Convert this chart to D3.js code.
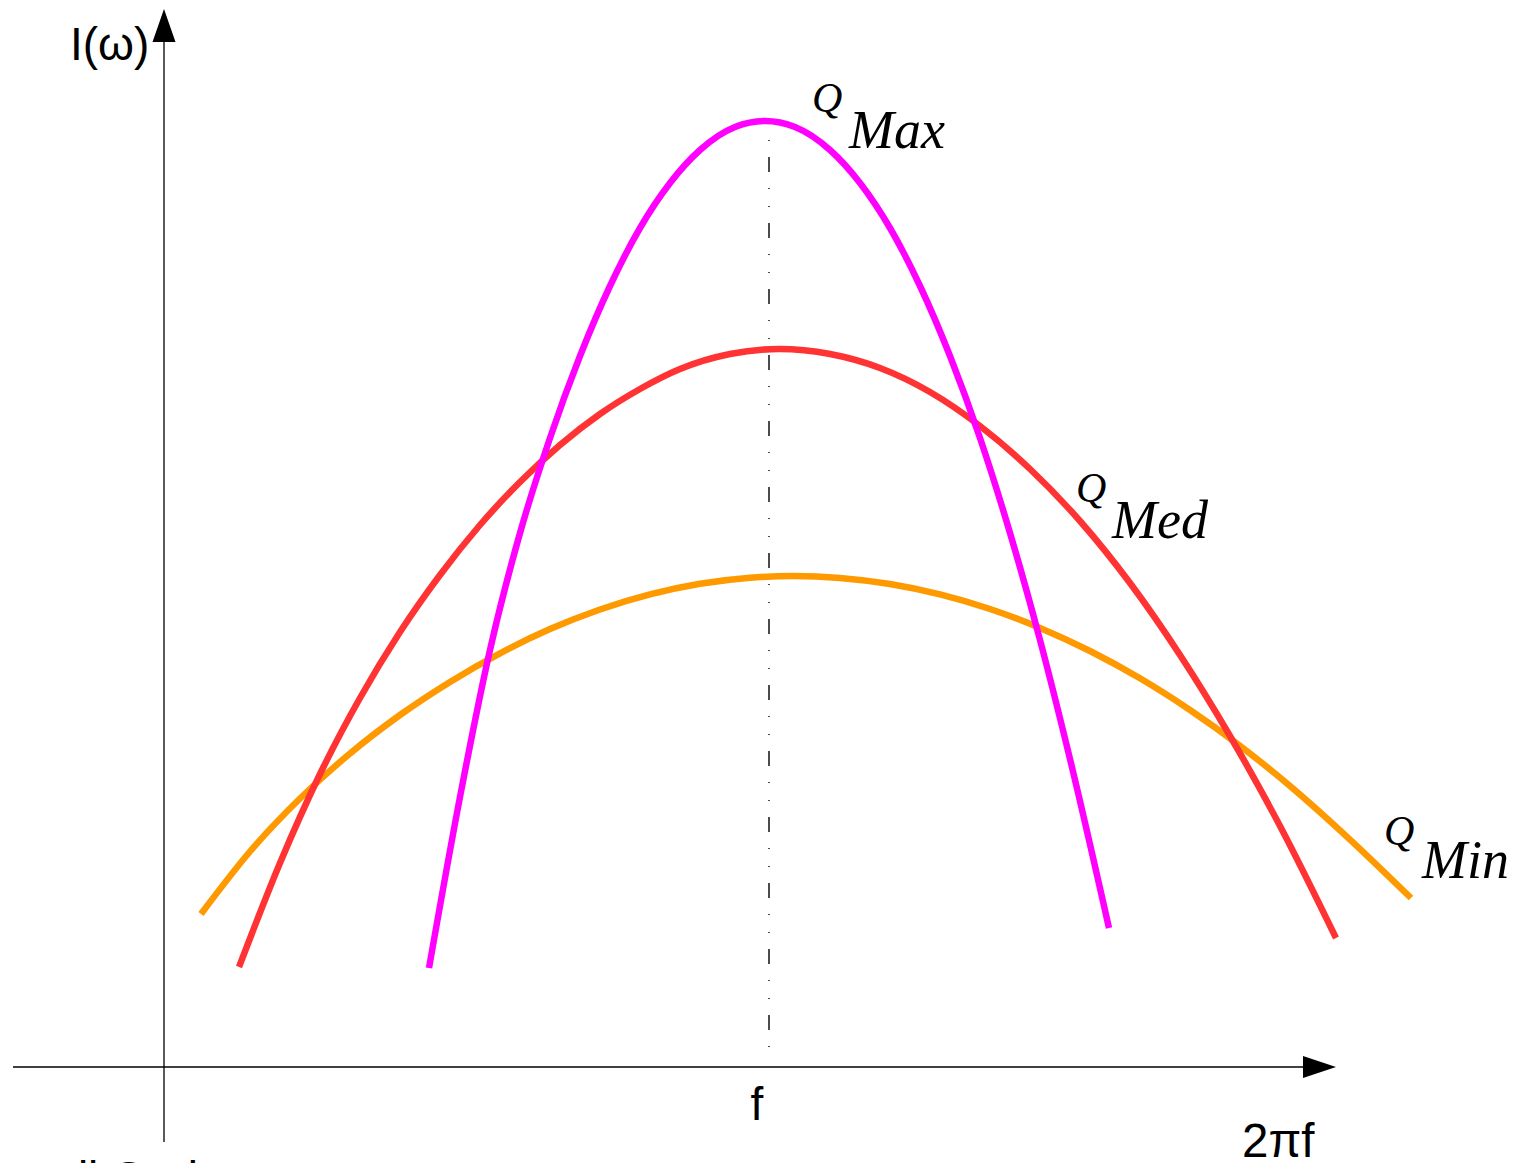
<!DOCTYPE html>
<html>
<head>
<meta charset="utf-8">
<script src="https://cdn.jsdelivr.net/npm/d3@7"></script>
<style>
  html, body { margin: 0; padding: 0; background: #fff; overflow: hidden; }
  .lbl { font-family: "Liberation Sans", Arial, sans-serif; font-size: 46px; fill: #000; }
  .q { font-family: "Liberation Serif", "Times New Roman", serif; font-style: italic; fill: #000; }
</style>
</head>
<body>
<div id="chart"></div>
<script>
// curve points, in axis units (x: 0..117, y: 0..100)
const qMaxX = [26.5, 29.6, 32.6, 35.6, 38.6, 41.6, 44.6, 47.6, 50.6, 53.6, 57.1, 60.1, 63.1, 66.6, 69.6, 72.6, 75.6, 78.6, 81.6, 84.6, 87.6, 90.6, 94.5];
const qMaxY = [9.9, 27.0, 41.7, 53.4, 62.9, 71.1, 78.1, 83.9, 88.4, 91.7, 94.0, 94.6, 94.0, 91.7, 88.4, 83.9, 78.1, 71.1, 62.9, 53.4, 42.7, 30.8, 13.9];

const qMedX = [7.5, 11.6, 15.6, 19.6, 23.6, 27.6, 31.6, 35.6, 39.6, 43.6, 47.6, 51.6, 56.6, 61.5, 66.6, 71.6, 76.6, 81.6, 86.6, 91.6, 96.6, 101.6, 106.6, 111.6, 117.2];
const qMedY = [10.0, 20.4, 29.3, 36.9, 43.5, 49.2, 54.2, 58.5, 62.2, 65.3, 67.8, 69.8, 71.3, 71.8, 71.3, 69.9, 67.5, 64.1, 59.8, 54.6, 48.4, 41.2, 33.1, 24.1, 12.9];

const qMinX = [3.7, 8.6, 13.6, 18.6, 23.6, 28.6, 33.6, 38.6, 43.6, 48.6, 53.6, 58.6, 62.9, 67.6, 72.6, 77.6, 82.6, 87.6, 92.6, 97.6, 102.6, 107.6, 112.6, 117.6, 124.7];
const qMinY = [15.3, 21.55, 26.85, 31.35, 35.2, 38.51, 41.37, 43.79, 45.75, 47.26, 48.32, 48.93, 49.1, 48.91, 48.3, 47.26, 45.8, 43.91, 41.6, 38.87, 35.7, 32.12, 28.1, 23.67, 16.9];

const fPos = 60.5;          // resonance frequency position
const axisLabels = ['I(\u03c9)', 'f', '2\u03c0f'];
const curveNames = ['Max', 'Med', 'Min'];
const curveColors = ['#ff00ff', '#ff3333', '#ff9900'];

const W = 1527, H = 1163;

const x = d3.scaleLinear().domain([0, 117.2]).range([164, 1336]);
const y = d3.scaleLinear().domain([0, 100]).range([1067, 67]);

const svg = d3.select('#chart').append('svg')
  .attr('width', W)
  .attr('height', H);

// axes
svg.append('line')
  .attr('x1', x(-15.1)).attr('x2', x(117.2) - 20)
  .attr('y1', y(0)).attr('y2', y(0))
  .attr('stroke', '#000').attr('stroke-width', 1.3);

svg.append('line')
  .attr('x1', x(0)).attr('x2', x(0))
  .attr('y1', y(-7.5)).attr('y2', y(100) - 30)
  .attr('stroke', '#000').attr('stroke-width', 1.3);

// arrow heads
svg.append('path')
  .attr('d', `M${x(117.2)},${y(0)} L${x(117.2) - 33},${y(0) - 11} L${x(117.2) - 33},${y(0) + 11} Z`)
  .attr('fill', '#000');

svg.append('path')
  .attr('d', `M${x(0)},${y(100) - 58} L${x(0) - 11.5},${y(100) - 25} L${x(0) + 11.5},${y(100) - 25} Z`)
  .attr('fill', '#000');

// dash-dot line at f
svg.append('line')
  .attr('x1', x(fPos)).attr('x2', x(fPos))
  .attr('y1', y(94.5)).attr('y2', y(0.7))
  .attr('stroke', '#000').attr('stroke-width', 1.4)
  .attr('stroke-dasharray', '1,17,1,16,15,16');

// curves
const line = d3.line()
  .x(d => x(d[0]))
  .y(d => y(d[1]))
  .curve(d3.curveMonotoneX);

const series = [
  d3.zip(qMaxX, qMaxY),
  d3.zip(qMedX, qMedY),
  d3.zip(qMinX, qMinY)
];

// draw order: orange, red, magenta on top
[2, 1, 0].forEach(i => {
  svg.append('path')
    .datum(series[i])
    .attr('d', line)
    .attr('fill', 'none')
    .attr('stroke', curveColors[i])
    .attr('stroke-width', 6.5);
});

// Q labels
const qLabelPos = [[64.9, 95.5, 68.6, 91.9], [91.3, 56.5, 94.9, 52.9], [122.1, 22.2, 125.9, 18.9]];
qLabelPos.forEach((p, i) => {
  svg.append('text')
    .attr('class', 'q')
    .attr('x', x(p[0]) - 1).attr('y', y(p[1]))
    .style('font-size', '42px')
    .text('Q');
  svg.append('text')
    .attr('class', 'q')
    .attr('x', x(p[2]) - 1).attr('y', y(p[3]))
    .style('font-size', '54px')
    .text(curveNames[i]);
});

// axis labels
svg.append('text').attr('class', 'lbl')
  .attr('x', 70).attr('y', 60)
  .text(axisLabels[0]);

svg.append('text').attr('class', 'lbl')
  .attr('x', x(fPos) - 12).attr('y', 1120)
  .attr('text-anchor', 'middle')
  .text(axisLabels[1]);

svg.append('text').attr('class', 'lbl')
  .attr('x', 1242).attr('y', 1157)
  .style('font-size', '47.5px')
  .text(axisLabels[2]);

// caption, mostly below the visible area
svg.append('text').attr('class', 'lbl')
  .attr('x', -9).attr('y', 1194)
  .text('small Q - low');
</script>
</body>
</html>
